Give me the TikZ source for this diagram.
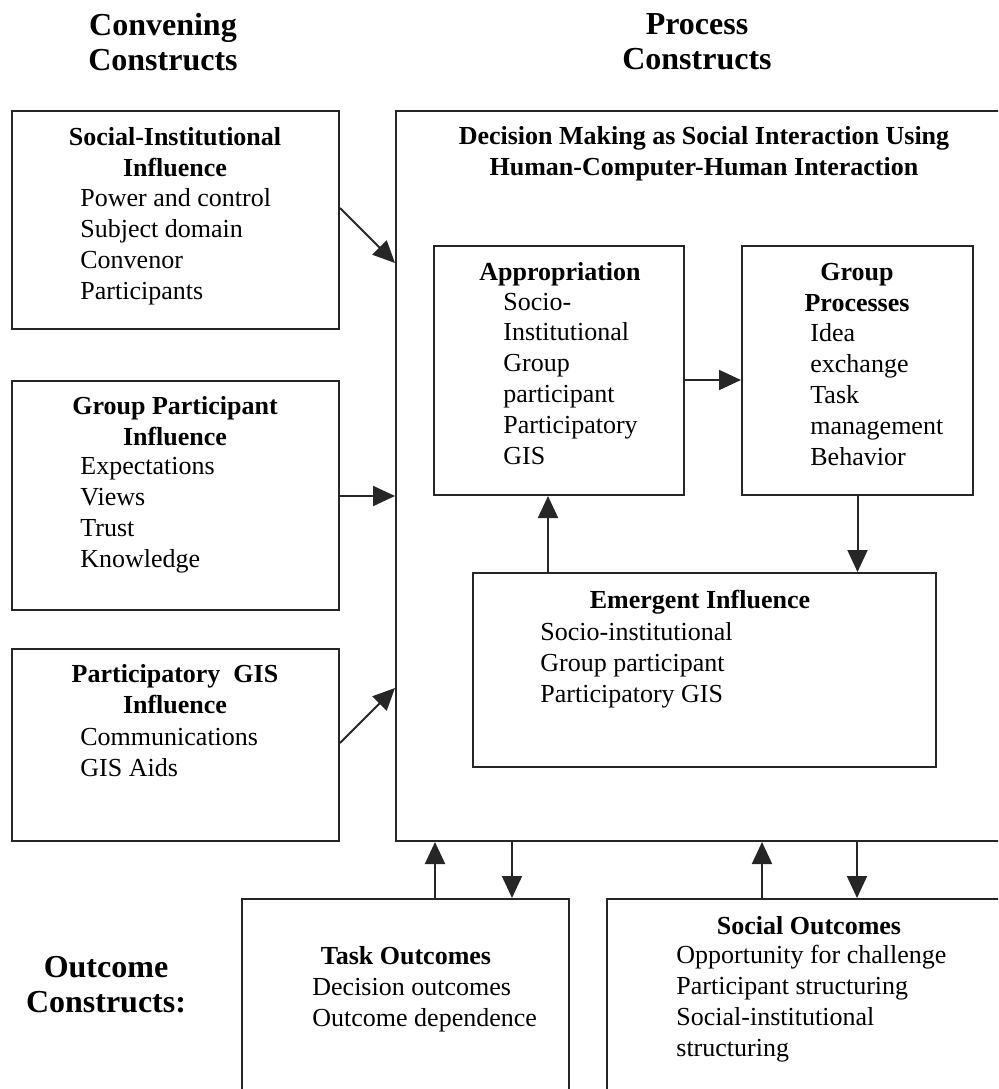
\documentclass[tikz,border=0pt]{standalone}
\usepackage{fontspec}
\setmainfont{Liberation Serif}
\usetikzlibrary{arrows.meta,fit}

\newcommand\bodyfont{\fontsize{13}{15.4}\selectfont}
\newcommand\headfont{\fontsize{16}{17.5}\selectfont\bfseries}

\tikzset{
  box/.style={draw=black!85, line width=1pt, inner sep=0pt},
  boxtitle/.style={font=\bodyfont\bfseries, align=center, anchor=base, inner sep=0pt},
  items/.style={font=\bodyfont, align=left, anchor=base west, inner sep=0pt},
  head/.style={font=\headfont, align=center, inner sep=0pt},
  arr/.style={draw=black!85, line width=1pt, -{Triangle[length=11pt,width=10pt]}}
}

\begin{document}
\begin{tikzpicture}[x=0.5pt,y=-0.5pt]
  \useasboundingbox (0,0) rectangle (998,1089);
  \clip (0,0) rectangle (998,1089);

  % column headings
  \node[head] (convhead) at (163,42) {Convening\\Constructs};
  \node[head] (prochead) at (697,42) {Process\\Constructs};
  \node[head] (outhead) at (106,985) {Outcome\\Constructs:};

  % convening constructs (text placed by the baseline of its last line)
  \node[box, fit={(12,111) (339,329)}] (si) {};
  \node[boxtitle] (sititle) at (175,176) {Social-Institutional\\Influence};
  \node[items] (siitems) at (80,299) {Power and control\\Subject domain\\Convenor\\Participants};

  \node[box, fit={(12,381) (339,610)}] (gpi) {};
  \node[boxtitle] (gpititle) at (175,445) {Group Participant\\Influence};
  \node[items] (gpiitems) at (80,567) {Expectations\\Views\\Trust\\Knowledge};

  \node[box, fit={(12,649) (339,841)}] (pgi) {};
  \node[boxtitle] (pgititle) at (175,713) {Participatory\ \ GIS\\Influence};
  \node[items] (pgiitems) at (80,776) {Communications\\GIS Aids};

  % process constructs
  \node[box, fit={(396,111) (1010,841)}] (proc) {};
  \node[boxtitle] (proctitle) at (704,175) {Decision Making as Social Interaction Using\\Human-Computer-Human Interaction};

  \node[box, fit={(434,246) (684,495)}] (appr) {};
  \node[boxtitle] (apprtitle) at (560,280) {Appropriation};
  \node[items] (appritems) at (503,464) {Socio-\\Institutional\\Group\\participant\\Participatory\\GIS};

  \node[box, fit={(742,246) (973,495)}] (gproc) {};
  \node[boxtitle] (gproctitle) at (857,311) {Group\\Processes};
  \node[items] (gprocitems) at (810,465) {Idea\\exchange\\Task\\management\\Behavior};

  \node[box, fit={(473,573) (936,767)}] (emer) {};
  \node[boxtitle] (emertitle) at (700,608) {Emergent Influence};
  \node[items] (emeritems) at (540,702) {Socio-institutional\\Group participant\\Participatory GIS};

  % outcome constructs
  \node[box, fit={(242,899) (569,1100)}] (task) {};
  \node[boxtitle] (tasktitle) at (406,964) {Task Outcomes};
  \node[items] (taskitems) at (312,1026) {Decision outcomes\\Outcome dependence};

  \node[box, fit={(607,899) (1010,1100)}] (soc) {};
  \node[boxtitle] (soctitle) at (809,934) {Social Outcomes};
  \node[items] (socitems) at (676,1056) {Opportunity for challenge\\Participant structuring\\Social-institutional\\structuring};

  % connectors
  \draw[arr] (si.east |- 0,208) -- (proc.west |- 0,263);
  \draw[arr] (gpi.east |- 0,496) -- (proc.west |- 0,496);
  \draw[arr] (pgi.east |- 0,743) -- (proc.west |- 0,688);
  \draw[arr] (appr.east |- 0,380) -- (gproc.west |- 0,380);
  \draw[arr] (gproc.south) -- (gproc.south |- emer.north);
  \draw[arr] (emer.north -| 548,0) -- (appr.south -| 548,0);
  \draw[arr] (task.north -| 435,0) -- (proc.south -| 435,0);
  \draw[arr] (proc.south -| 512,0) -- (task.north -| 512,0);
  \draw[arr] (soc.north -| 762,0) -- (proc.south -| 762,0);
  \draw[arr] (proc.south -| 857,0) -- (soc.north -| 857,0);
\end{tikzpicture}
\end{document}
